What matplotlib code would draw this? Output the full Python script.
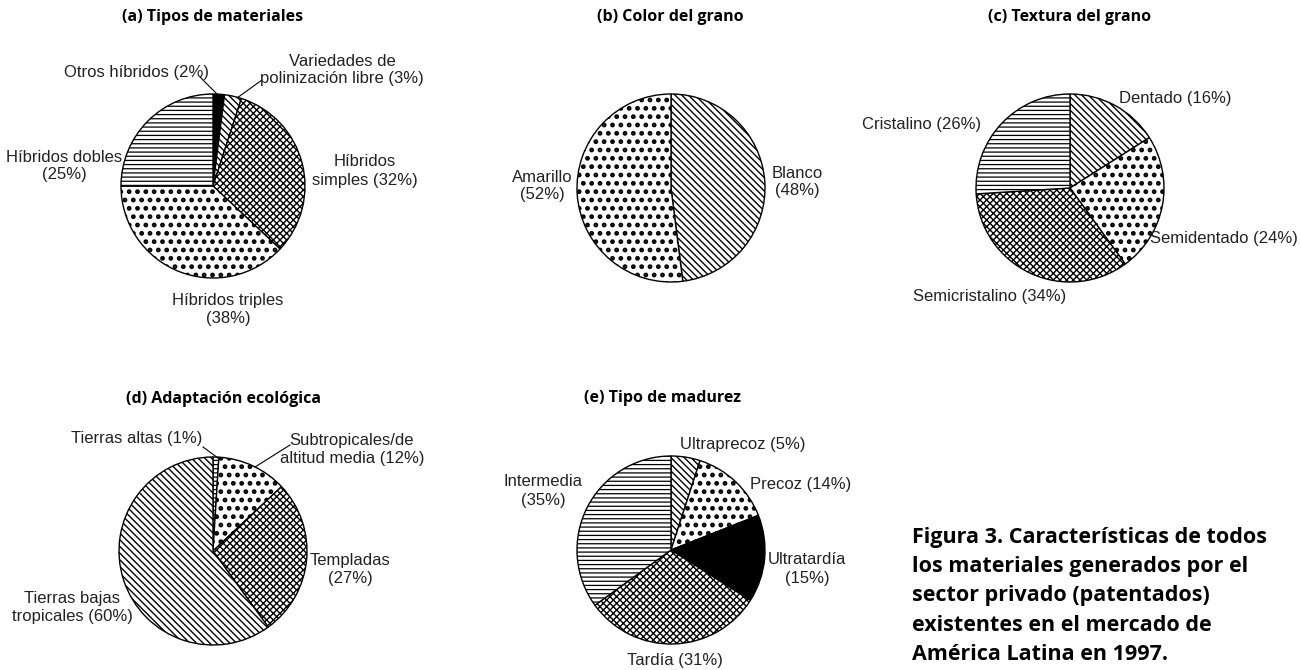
import matplotlib
matplotlib.use("Agg")
import matplotlib.pyplot as plt
from matplotlib.lines import Line2D

W, H = 1301, 670

# ---------------- DATA ----------------
a_labels = ["Otros híbridos", "Variedades de polinización libre", "Híbridos simples",
            "Híbridos triples", "Híbridos dobles"]
a_values = [2, 3, 32, 38, 25]

b_labels = ["Blanco", "Amarillo"]
b_values = [48, 52]

c_labels = ["Dentado", "Semidentado", "Semicristalino", "Cristalino"]
c_values = [16, 24, 34, 26]

d_labels = ["Tierras altas", "Subtropicales/de altitud media", "Templadas", "Tierras bajas tropicales"]
d_values = [1, 12, 27, 60]

e_labels = ["Ultraprecoz", "Precoz", "Ultratardía", "Tardía", "Intermedia"]
e_values = [5, 14, 15, 31, 35]

titles = ["(a) Tipos de materiales", "(b) Color del grano", "(c) Textura del grano",
          "(d) Adaptación ecológica", "(e) Tipo de madurez"]

caption_lines = ["Figura 3. Características de todos",
                 "los materiales generados por el",
                 "sector privado (patentados)",
                 "existentes en el mercado de",
                 "América Latina en 1997."]

# ---------------- STYLES ----------------
# facecolor, hatch, hatch linewidth
STYLE = {
    "solid": ("black", None, 1.0),
    "diag": ("white", "\\" * 5, 1.0),
    "cross": ("white", "x" * 5, 1.0),
    "dots": ("white", "..", 2.2),
    "horiz": ("white", "-" * 4, 0.9),
}
a_styles = ["solid", "diag", "cross", "dots", "horiz"]
b_styles = ["diag", "dots"]
c_styles = ["diag", "dots", "cross", "horiz"]
d_styles = ["horiz", "dots", "cross", "diag"]
e_styles = ["diag", "dots", "solid", "cross", "horiz"]

LABEL_FONT = ["Liberation Sans", "DejaVu Sans"]
BOLD_FONT = ["Open Sans", "DejaVu Sans"]

fig = plt.figure(figsize=(W / 100, H / 100), dpi=100)
fig.patch.set_facecolor("white")


def draw_pie(cx, cy, r, values, styles):
    pad = r + 3
    ax = fig.add_axes([(cx - pad) / W, 1 - (cy + pad) / H, 2 * pad / W, 2 * pad / H])
    wedges, _ = ax.pie(values, startangle=90, counterclock=False, radius=r,
                       wedgeprops=dict(edgecolor="black", linewidth=1.0))
    for w, s in zip(wedges, styles):
        fc, hatch, hlw = STYLE[s]
        w.set_facecolor(fc)
        if hatch:
            w.set_hatch(hatch)
            try:
                w.set_hatch_linewidth(hlw)
            except AttributeError:
                pass
    ax.set_xlim(-pad, pad)
    ax.set_ylim(-pad, pad)
    ax.set_aspect("equal")
    ax.axis("off")


def label(x, y, s, ha="center", size=12):
    fig.text(x / W, 1 - y / H, s, ha=ha, va="center", fontsize=size,
             family=LABEL_FONT, color="#222222", linespacing=1.25)


def leader(x1, y1, x2, y2):
    fig.add_artist(Line2D([x1 / W, x2 / W], [1 - y1 / H, 1 - y2 / H],
                          transform=fig.transFigure, color="black", lw=0.8))


def title(x, y, s):
    fig.text(x / W, 1 - y / H, s, ha="center", va="center", fontsize=11.5,
             fontweight="bold", family=BOLD_FONT, color="black")


# ---------------- PIES ----------------
draw_pie(213, 186, 92, a_values, a_styles)
draw_pie(671, 188, 94, b_values, b_styles)
draw_pie(1070, 188, 94, c_values, c_styles)
draw_pie(213, 551, 94, d_values, d_styles)
draw_pie(671, 550, 94, e_values, e_styles)

# titles
title(213, 17, titles[0])
title(670, 17, titles[1])
title(1070, 17, titles[2])
title(224, 399, titles[3])
title(662, 398, titles[4])


def pct(v):
    return f"({v}%)"


# (a)
label(136, 72, f"{a_labels[0]} {pct(a_values[0])}")
leader(200, 77, 219, 96)
label(342, 70, "Variedades de\npolinización libre " + pct(a_values[1]))
leader(262, 80, 237, 98)
label(365, 171, "Híbridos\nsimples " + pct(a_values[2]))
label(228, 310, a_labels[3] + "\n" + pct(a_values[3]))
label(64, 166, "Híbridos dobles\n" + pct(a_values[4]))

# (b)
label(797, 182, b_labels[0] + "\n" + pct(b_values[0]))
label(542, 186, b_labels[1] + "\n" + pct(b_values[1]))

# (c)
label(1175, 98, f"{c_labels[0]} {pct(c_values[0])}")
label(1224, 238, f"{c_labels[1]} {pct(c_values[1])}")
label(990, 297, f"{c_labels[2]} {pct(c_values[2])}")
label(922, 124, f"{c_labels[3]} {pct(c_values[3])}")

# (d)
label(137, 438, f"{d_labels[0]} {pct(d_values[0])}")
leader(203, 447, 218, 458)
label(352, 449, "Subtropicales/de\naltitud media " + pct(d_values[1]))
leader(290, 445, 255, 467)
label(350, 570, d_labels[2] + "\n" + pct(d_values[2]))
label(72, 607, "Tierras bajas\ntropicales " + pct(d_values[3]))

# (e)
label(743, 445, f"{e_labels[0]} {pct(e_values[0])}")
label(801, 485, f"{e_labels[1]} {pct(e_values[1])}")
label(807, 569, e_labels[2] + "\n" + pct(e_values[2]))
label(675, 660, f"{e_labels[3]} {pct(e_values[3])}")
label(543, 491, e_labels[4] + "\n" + pct(e_values[4]))

# caption
for i, line in enumerate(caption_lines):
    fig.text(912 / W, 1 - (537 + i * 29.5) / H, line, ha="left", va="center",
             fontsize=15.5, fontweight="bold", family=BOLD_FONT, color="black")

fig.savefig("out.png", dpi=100, facecolor="white")
